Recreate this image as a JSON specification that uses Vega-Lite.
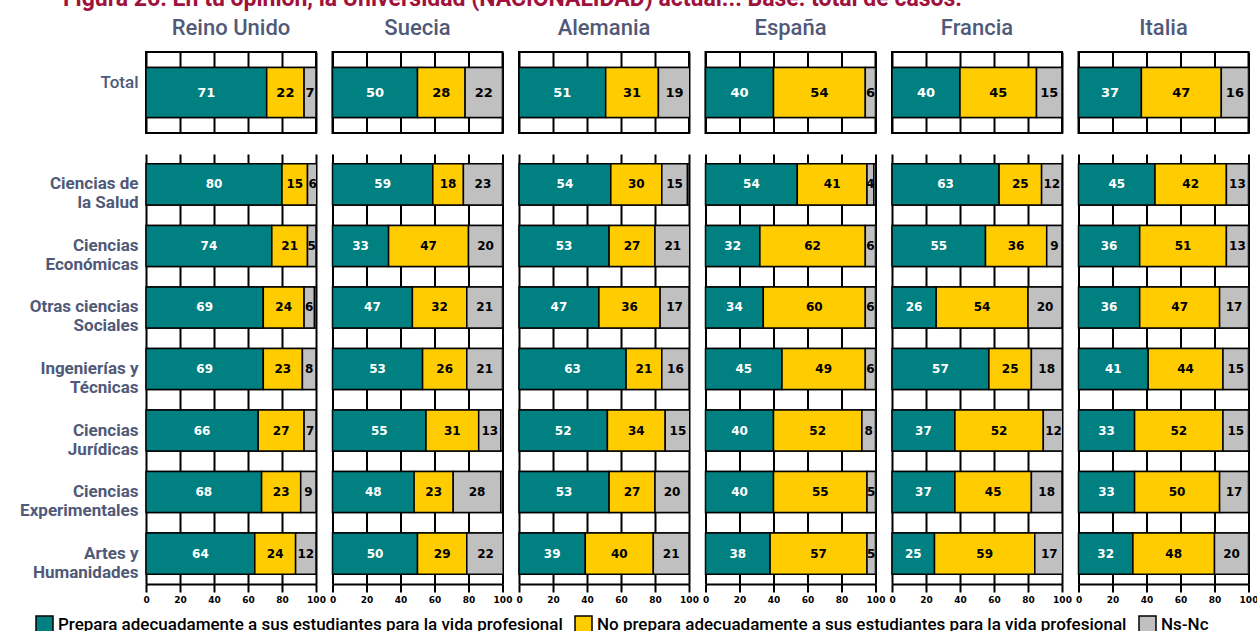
{
  "$schema": "https://vega.github.io/schema/vega-lite/v6.json",
  "background": "white",
  "padding": {"left": 11, "top": -12, "right": 5, "bottom": 0},
  "title": {"text": "Figura 26. En tu opinión, la Universidad (NACIONALIDAD) actual... Base: total de casos.", "anchor": "start", "fontSize": 23, "font": "Roboto", "fontWeight": "bold", "color": "#A0123C", "offset": 6, "dx": 52},
  "datasets": {
    "d": [
      {"p": "Reino Unido", "c": "Total", "r1": 71, "r2": 22, "r3": 7},
      {"p": "Reino Unido", "c": "Ciencias de|la Salud", "r1": 80, "r2": 15, "r3": 6},
      {"p": "Reino Unido", "c": "Ciencias|Económicas", "r1": 74, "r2": 21, "r3": 5},
      {"p": "Reino Unido", "c": "Otras ciencias|Sociales", "r1": 69, "r2": 24, "r3": 6},
      {"p": "Reino Unido", "c": "Ingenierías y|Técnicas", "r1": 69, "r2": 23, "r3": 8},
      {"p": "Reino Unido", "c": "Ciencias|Jurídicas", "r1": 66, "r2": 27, "r3": 7},
      {"p": "Reino Unido", "c": "Ciencias|Experimentales", "r1": 68, "r2": 23, "r3": 9},
      {"p": "Reino Unido", "c": "Artes y|Humanidades", "r1": 64, "r2": 24, "r3": 12},
      {"p": "Suecia", "c": "Total", "r1": 50, "r2": 28, "r3": 22},
      {"p": "Suecia", "c": "Ciencias de|la Salud", "r1": 59, "r2": 18, "r3": 23},
      {"p": "Suecia", "c": "Ciencias|Económicas", "r1": 33, "r2": 47, "r3": 20},
      {"p": "Suecia", "c": "Otras ciencias|Sociales", "r1": 47, "r2": 32, "r3": 21},
      {"p": "Suecia", "c": "Ingenierías y|Técnicas", "r1": 53, "r2": 26, "r3": 21},
      {"p": "Suecia", "c": "Ciencias|Jurídicas", "r1": 55, "r2": 31, "r3": 13},
      {"p": "Suecia", "c": "Ciencias|Experimentales", "r1": 48, "r2": 23, "r3": 28},
      {"p": "Suecia", "c": "Artes y|Humanidades", "r1": 50, "r2": 29, "r3": 22},
      {"p": "Alemania", "c": "Total", "r1": 51, "r2": 31, "r3": 19},
      {"p": "Alemania", "c": "Ciencias de|la Salud", "r1": 54, "r2": 30, "r3": 15},
      {"p": "Alemania", "c": "Ciencias|Económicas", "r1": 53, "r2": 27, "r3": 21},
      {"p": "Alemania", "c": "Otras ciencias|Sociales", "r1": 47, "r2": 36, "r3": 17},
      {"p": "Alemania", "c": "Ingenierías y|Técnicas", "r1": 63, "r2": 21, "r3": 16},
      {"p": "Alemania", "c": "Ciencias|Jurídicas", "r1": 52, "r2": 34, "r3": 15},
      {"p": "Alemania", "c": "Ciencias|Experimentales", "r1": 53, "r2": 27, "r3": 20},
      {"p": "Alemania", "c": "Artes y|Humanidades", "r1": 39, "r2": 40, "r3": 21},
      {"p": "España", "c": "Total", "r1": 40, "r2": 54, "r3": 6},
      {"p": "España", "c": "Ciencias de|la Salud", "r1": 54, "r2": 41, "r3": 4},
      {"p": "España", "c": "Ciencias|Económicas", "r1": 32, "r2": 62, "r3": 6},
      {"p": "España", "c": "Otras ciencias|Sociales", "r1": 34, "r2": 60, "r3": 6},
      {"p": "España", "c": "Ingenierías y|Técnicas", "r1": 45, "r2": 49, "r3": 6},
      {"p": "España", "c": "Ciencias|Jurídicas", "r1": 40, "r2": 52, "r3": 8},
      {"p": "España", "c": "Ciencias|Experimentales", "r1": 40, "r2": 55, "r3": 5},
      {"p": "España", "c": "Artes y|Humanidades", "r1": 38, "r2": 57, "r3": 5},
      {"p": "Francia", "c": "Total", "r1": 40, "r2": 45, "r3": 15},
      {"p": "Francia", "c": "Ciencias de|la Salud", "r1": 63, "r2": 25, "r3": 12},
      {"p": "Francia", "c": "Ciencias|Económicas", "r1": 55, "r2": 36, "r3": 9},
      {"p": "Francia", "c": "Otras ciencias|Sociales", "r1": 26, "r2": 54, "r3": 20},
      {"p": "Francia", "c": "Ingenierías y|Técnicas", "r1": 57, "r2": 25, "r3": 18},
      {"p": "Francia", "c": "Ciencias|Jurídicas", "r1": 37, "r2": 52, "r3": 12},
      {"p": "Francia", "c": "Ciencias|Experimentales", "r1": 37, "r2": 45, "r3": 18},
      {"p": "Francia", "c": "Artes y|Humanidades", "r1": 25, "r2": 59, "r3": 17},
      {"p": "Italia", "c": "Total", "r1": 37, "r2": 47, "r3": 16},
      {"p": "Italia", "c": "Ciencias de|la Salud", "r1": 45, "r2": 42, "r3": 13},
      {"p": "Italia", "c": "Ciencias|Económicas", "r1": 36, "r2": 51, "r3": 13},
      {"p": "Italia", "c": "Otras ciencias|Sociales", "r1": 36, "r2": 47, "r3": 17},
      {"p": "Italia", "c": "Ingenierías y|Técnicas", "r1": 41, "r2": 44, "r3": 15},
      {"p": "Italia", "c": "Ciencias|Jurídicas", "r1": 33, "r2": 52, "r3": 15},
      {"p": "Italia", "c": "Ciencias|Experimentales", "r1": 33, "r2": 50, "r3": 17},
      {"p": "Italia", "c": "Artes y|Humanidades", "r1": 32, "r2": 48, "r3": 20}
    ]
  },
  "data": {"name": "d"},
  "spacing": 20,
  "vconcat": [
    {
      "transform": [{"filter": "datum.c == 'Total'"}],
      "bounds": "flush",
      "facet": {
        "column": {
          "field": "p", "type": "nominal",
          "sort": ["Reino Unido", "Suecia", "Alemania", "España", "Francia", "Italia"],
          "header": {"title": null, "labelFontSize": 22, "labelColor": "#505A78", "labelFont": "Roboto", "labelFontWeight": 500, "labelPadding": 12}
        }
      },
      "spacing": 16.5,
      "spec": {
        "width": 170, "height": 81,
        "view": {"stroke": "black", "strokeWidth": 2},
        "encoding": {
          "y": {"field": "c", "type": "nominal", "title": null,
            "scale": {"paddingInner": 0.333, "paddingOuter": 0.207},
            "axis": {"domain": false, "ticks": false, "labelFontSize": 17, "labelFont": "Roboto", "labelFontWeight": 500, "labelColor": "#505A78", "labelPadding": 8, "minExtent": 135, "maxExtent": 135, "labelExpr": "split(datum.label, '|')", "labelLineHeight": 19, "labelBaseline": "middle", "labelOffset": -10}}
        },
        "layer": [
          {
            "mark": {"type": "bar", "fill": "white", "stroke": "black", "strokeWidth": 1.5},
            "encoding": {
              "x": {"datum": 0, "type": "quantitative", "scale": {"domain": [0, 100], "nice": false},
                "axis": {"values": [0, 20, 40, 60, 80, 100], "grid": true, "gridColor": "black", "gridWidth": 2, "gridOpacity": 1, "labels": false, "ticks": false, "domain": false, "title": null}},
              "x2": {"datum": 100}
            }
          },
          {
            "transform": [{"fold": ["r1", "r2", "r3"], "as": ["r", "v"]}],
            "mark": {"type": "bar", "stroke": "black", "strokeWidth": 1.5, "clip": true},
            "encoding": {
              "x": {"field": "v", "type": "quantitative", "stack": "zero", "scale": {"domain": [0, 100], "nice": false},
                "axis": {"values": [0, 20, 40, 60, 80, 100], "grid": true, "gridColor": "black", "gridWidth": 2, "gridOpacity": 1, "labels": false, "ticks": false, "domain": false, "title": null}},
              "color": {"field": "r", "type": "nominal", "scale": {"domain": ["r1", "r2", "r3"], "range": ["#008080", "#FFCC00", "#C0C0C0"]}},
              "order": {"field": "r"}
            }
          },
          {
            "transform": [{"fold": ["r1", "r2", "r3"], "as": ["r", "v"]}],
            "mark": {"type": "text", "font": "DejaVu Sans", "fontWeight": "bold", "fontSize": 13},
            "encoding": {
              "x": {"field": "v", "type": "quantitative", "stack": "zero", "bandPosition": 0.5, "scale": {"domain": [0, 100], "nice": false},
                "axis": {"values": [0, 20, 40, 60, 80, 100], "grid": true, "gridColor": "black", "gridWidth": 2, "gridOpacity": 1, "labels": false, "ticks": false, "domain": false, "title": null}},
              "detail": {"field": "r"},
              "order": {"field": "r"},
              "text": {"field": "v", "type": "quantitative"},
              "color": {"condition": {"test": "datum.r == 'r1'", "value": "white"}, "value": "black"}
            }
          }
        ]
      }
    },
    {
      "transform": [{"filter": "datum.c != 'Total'"}],
      "bounds": "flush",
      "facet": {
        "column": {
          "field": "p", "type": "nominal",
          "sort": ["Reino Unido", "Suecia", "Alemania", "España", "Francia", "Italia"],
          "header": {"title": null, "labels": false}
        }
      },
      "spacing": 16.5,
      "spec": {
        "width": 170, "height": 430,
        "view": {"stroke": null},
        "encoding": {
          "y": {"field": "c", "type": "nominal", "title": null,
            "sort": ["Ciencias de|la Salud", "Ciencias|Económicas", "Otras ciencias|Sociales", "Ingenierías y|Técnicas", "Ciencias|Jurídicas", "Ciencias|Experimentales", "Artes y|Humanidades"],
            "scale": {"paddingInner": 0.333, "paddingOuter": 0.16},
            "axis": {"domain": false, "ticks": false, "labelFontSize": 17, "labelFont": "Roboto", "labelFontWeight": "bold", "labelColor": "#505A78", "labelPadding": 8, "minExtent": 135, "maxExtent": 135, "labelExpr": "split(datum.label, '|')", "labelLineHeight": 19, "labelBaseline": "middle"}}
        },
        "layer": [
          {
            "mark": {"type": "bar", "fill": "white", "stroke": "black", "strokeWidth": 1.5},
            "encoding": {
              "x": {"datum": 0, "type": "quantitative", "scale": {"domain": [0, 100], "nice": false},
                "axis": {"values": [0, 20, 40, 60, 80, 100], "grid": true, "gridColor": "black", "gridWidth": 2, "gridOpacity": 1, "domainColor": "black", "domainWidth": 2, "tickColor": "black", "tickWidth": 2, "tickSize": 8, "labelFont": "DejaVu Sans", "labelFontWeight": "bold", "labelFontSize": 9, "labelColor": "black", "labelPadding": 3, "labelFlush": false, "labelOverlap": false, "title": null}},
              "x2": {"datum": 100}
            }
          },
          {
            "transform": [{"fold": ["r1", "r2", "r3"], "as": ["r", "v"]}],
            "mark": {"type": "bar", "stroke": "black", "strokeWidth": 1.5, "clip": true},
            "encoding": {
              "x": {"field": "v", "type": "quantitative", "stack": "zero", "scale": {"domain": [0, 100], "nice": false},
                "axis": {"values": [0, 20, 40, 60, 80, 100], "grid": true, "gridColor": "black", "gridWidth": 2, "gridOpacity": 1, "domainColor": "black", "domainWidth": 2, "tickColor": "black", "tickWidth": 2, "tickSize": 8, "labelFont": "DejaVu Sans", "labelFontWeight": "bold", "labelFontSize": 9, "labelColor": "black", "labelPadding": 3, "labelFlush": false, "labelOverlap": false, "title": null}},
              "color": {"field": "r", "type": "nominal", "scale": {"domain": ["r1", "r2", "r3"], "range": ["#008080", "#FFCC00", "#C0C0C0"]},
                "legend": {"orient": "none", "legendX": -111, "legendY": 563, "direction": "horizontal", "title": null, "symbolType": "square", "symbolSize": 289, "symbolStrokeColor": "black", "symbolStrokeWidth": 1.5, "labelFontSize": 17, "labelFont": "Roboto", "labelFontWeight": 500, "labelColor": "black", "columnPadding": 9, "labelLimit": 700,
                  "labelExpr": "datum.label == 'r1' ? 'Prepara adecuadamente a sus estudiantes para la vida profesional' : datum.label == 'r2' ? 'No prepara adecuadamente a sus estudiantes para la vida profesional' : 'Ns-Nc'"}},
              "order": {"field": "r"}
            }
          },
          {
            "transform": [{"fold": ["r1", "r2", "r3"], "as": ["r", "v"]}],
            "mark": {"type": "text", "font": "DejaVu Sans", "fontWeight": "bold", "fontSize": 12},
            "encoding": {
              "x": {"field": "v", "type": "quantitative", "stack": "zero", "bandPosition": 0.5, "scale": {"domain": [0, 100], "nice": false},
                "axis": {"values": [0, 20, 40, 60, 80, 100], "grid": true, "gridColor": "black", "gridWidth": 2, "gridOpacity": 1, "domainColor": "black", "domainWidth": 2, "tickColor": "black", "tickWidth": 2, "tickSize": 8, "labelFont": "DejaVu Sans", "labelFontWeight": "bold", "labelFontSize": 9, "labelColor": "black", "labelPadding": 3, "labelFlush": false, "labelOverlap": false, "title": null}},
              "detail": {"field": "r"},
              "order": {"field": "r"},
              "text": {"field": "v", "type": "quantitative"},
              "color": {"condition": {"test": "datum.r == 'r1'", "value": "white"}, "value": "black"}
            }
          }
        ]
      }
    }
  ]
}
